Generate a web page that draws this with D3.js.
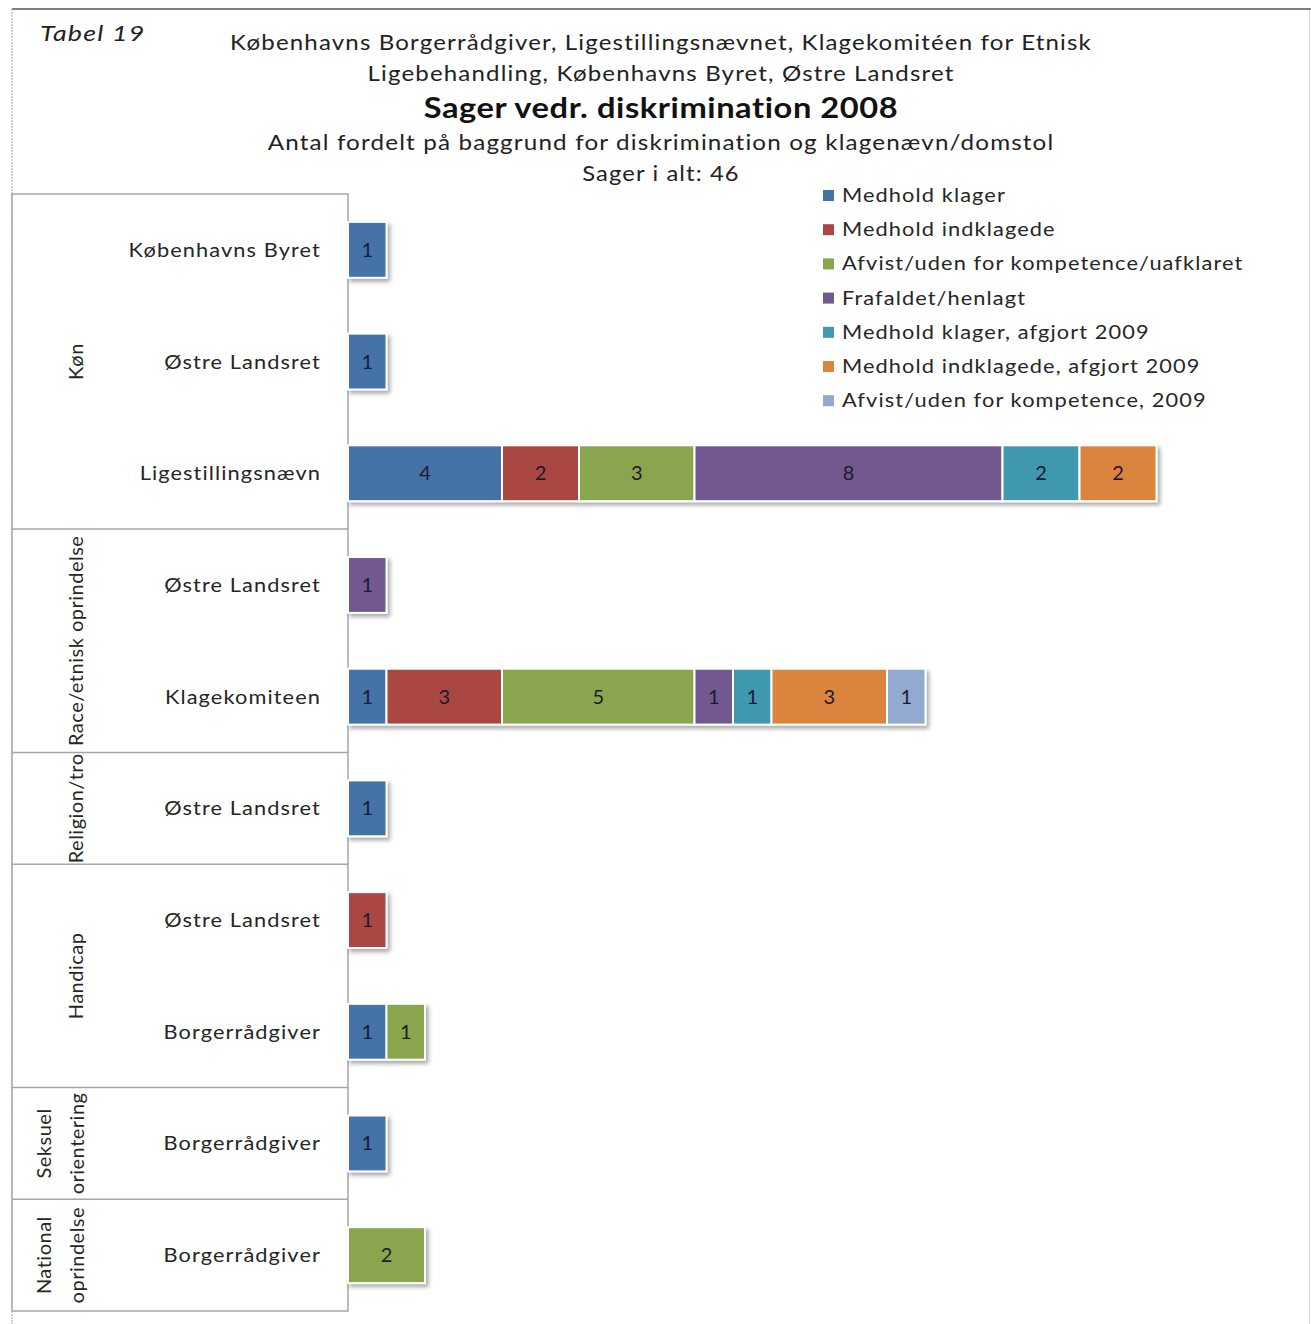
<!DOCTYPE html>
<html>
<head>
<meta charset="utf-8">
<script src="https://cdn.jsdelivr.net/npm/d3@7"></script>
<style>
  body { margin: 0; background: #fff; }
  svg { display: block; font-family: Lato, "Open Sans", sans-serif; }
</style>
</head>
<body>
<svg id="chart"></svg>
<script>
// rows, top to bottom
const groups = ["Køn", "Køn", "Køn", "Race/etnisk oprindelse", "Race/etnisk oprindelse",
  "Religion/tro", "Handicap", "Handicap", "Seksuel orientering", "National oprindelse"];
const courts = ["Københavns Byret", "Østre Landsret", "Ligestillingsnævn", "Østre Landsret",
  "Klagekomiteen", "Østre Landsret", "Østre Landsret", "Borgerrådgiver", "Borgerrådgiver", "Borgerrådgiver"];

const seriesNames = ["Medhold klager", "Medhold indklagede", "Afvist/uden for kompetence/uafklaret",
  "Frafaldet/henlagt", "Medhold klager, afgjort 2009", "Medhold indklagede, afgjort 2009",
  "Afvist/uden for kompetence, 2009"];

const medholdKlager      = [1, 1, 4, 0, 1, 1, 0, 1, 1, 0];
const medholdIndklagede  = [0, 0, 2, 0, 3, 0, 1, 0, 0, 0];
const afvist             = [0, 0, 3, 0, 5, 0, 0, 1, 0, 2];
const frafaldet          = [0, 0, 8, 1, 1, 0, 0, 0, 0, 0];
const medholdKlager09    = [0, 0, 2, 0, 1, 0, 0, 0, 0, 0];
const medholdIndklag09   = [0, 0, 2, 0, 3, 0, 0, 0, 0, 0];
const afvist09           = [0, 0, 0, 0, 1, 0, 0, 0, 0, 0];

const colors = ["#4572A7", "#AA4643", "#89A54E", "#71588F", "#4198AF", "#DB843D", "#93A9CF"];

const titleLines = ["Københavns Borgerrådgiver, Ligestillingsnævnet, Klagekomitéen for Etnisk",
  "Ligebehandling, Københavns Byret, Østre Landsret"];
const mainTitle = "Sager vedr. diskrimination 2008";
const subTitle = "Antal fordelt på baggrund for diskrimination og klagenævn/domstol";
const totalText = "Sager i alt: 46";

const W = 1311, H = 1324;
const svg = d3.select("#chart").attr("width", W).attr("height", H);

const values = [medholdKlager, medholdIndklagede, afvist, frafaldet, medholdKlager09, medholdIndklag09, afvist09];
const table = courts.map((c, i) => {
  const row = { i };
  seriesNames.forEach((s, k) => row[s] = values[k][i]);
  return row;
});
const stacked = d3.stack().keys(seriesNames)(table);

const tableLeft = 12, tableRight = 348, tableTop = 194, tableBottom = 1311;

const x = d3.scaleLinear().domain([0, 21]).range([tableRight, tableRight + 21 * 38.5]);
const y = d3.scaleBand().domain(d3.range(courts.length)).range([tableTop, tableBottom])
  .paddingInner(0.5).paddingOuter(0.25);

const defs = svg.append("defs");
const f = defs.append("filter").attr("id", "shadow")
  .attr("x", "-10%").attr("y", "-20%").attr("width", "130%").attr("height", "150%");
f.append("feDropShadow").attr("dx", 2.5).attr("dy", 3).attr("stdDeviation", 2)
  .attr("flood-color", "#000").attr("flood-opacity", 0.35);

// the source picture is stretched sideways, so horizontal text gets a scaleX
function wideText(parent, tx, ty, sx, anchor, size, txt) {
  return parent.append("g").attr("transform", `translate(${tx},${ty}) scale(${sx},1)`)
    .append("text").attr("text-anchor", anchor).attr("font-size", size)
    .attr("letter-spacing", 1).attr("fill", "#222").text(txt);
}

// frame
svg.append("line").attr("x1", tableLeft).attr("x2", W).attr("y1", 9).attr("y2", 9)
  .attr("stroke", "#7f7f7f").attr("stroke-width", 2);
svg.append("line").attr("x1", tableLeft).attr("x2", tableLeft).attr("y1", 9).attr("y2", H)
  .attr("stroke", "#a0a0a0").attr("stroke-width", 1).attr("stroke-dasharray", "2,1");
svg.append("line").attr("x1", W - 1.5).attr("x2", W - 1.5).attr("y1", 10).attr("y2", H)
  .attr("stroke", "#d8d8d8").attr("stroke-width", 1);

// titles
wideText(svg, 40, 41, 1.22, "start", 22, "Tabel 19").attr("font-style", "italic");

const cx = 661;
titleLines.forEach((t, i) => wideText(svg, cx, 50 + i * 31, 1.146, "middle", 21, t));
wideText(svg, cx, 118, 1.165, "middle", 28, mainTitle)
  .attr("font-weight", "bold").attr("letter-spacing", 0.5).attr("fill", "#111");
wideText(svg, cx, 150, 1.154, "middle", 21, subTitle);
wideText(svg, cx, 181, 1.13, "middle", 21, totalText);

// table on the left
const tbl = svg.append("g").attr("stroke", "#a6a6a6").attr("stroke-width", 1.5);
tbl.append("rect").attr("x", tableLeft).attr("y", tableTop)
  .attr("width", tableRight - tableLeft).attr("height", tableBottom - tableTop).attr("fill", "#fff");

// group spans from the group array
const spans = [];
groups.forEach((g, i) => {
  const last = spans[spans.length - 1];
  if (last && last.name === g) last.end = i;
  else spans.push({ name: g, start: i, end: i });
});
const step = y.step();
const rowTop = i => tableTop + i * step;

spans.slice(1).forEach(s => {
  tbl.append("line").attr("x1", tableLeft).attr("x2", tableRight)
    .attr("y1", rowTop(s.start)).attr("y2", rowTop(s.start));
});

const twoLine = { "Seksuel orientering": ["Seksuel", "orientering"], "National oprindelse": ["National", "oprindelse"] };
spans.forEach(s => {
  const cy = (rowTop(s.start) + rowTop(s.end + 1)) / 2;
  const lines = twoLine[s.name] || [s.name];
  lines.forEach((t, j) => {
    const lx = lines.length === 1 ? 83 : 51 + j * 33;
    svg.append("text").attr("transform", `translate(${lx},${cy}) rotate(-90)`)
      .attr("text-anchor", "middle").attr("font-size", 20).attr("letter-spacing", 0.5)
      .attr("fill", "#262626").text(t);
  });
});

const courtLabels = svg.append("g");
courts.forEach((c, i) => {
  wideText(courtLabels, 321, y(i) + y.bandwidth() / 2 + 7, 1.09, "end", 20, c).attr("fill", "#262626");
});

// bars
const bars = svg.append("g").attr("filter", "url(#shadow)");
stacked.forEach((layer, k) => {
  bars.selectAll(".s" + k).data(layer.filter(d => d[1] > d[0])).enter().append("rect")
    .attr("x", d => x(d[0])).attr("y", d => y(d.data.i))
    .attr("width", d => x(d[1]) - x(d[0])).attr("height", y.bandwidth())
    .attr("fill", colors[k]).attr("stroke", "#fff").attr("stroke-width", 2);
});
const lbl = svg.append("g");
stacked.forEach((layer, k) => {
  lbl.selectAll(".l" + k).data(layer.filter(d => d[1] > d[0])).enter().append("text")
    .attr("x", d => (x(d[0]) + x(d[1])) / 2).attr("y", d => y(d.data.i) + y.bandwidth() / 2 + 7)
    .attr("text-anchor", "middle").attr("font-size", 20).attr("fill", "#1c1a33")
    .text(d => d[1] - d[0]);
});

// legend
const lg = svg.append("g").selectAll("g").data(seriesNames).enter().append("g")
  .attr("transform", (d, i) => `translate(823,${195 + i * 34.2})`);
lg.append("rect").attr("x", 0).attr("y", -5).attr("width", 11).attr("height", 11)
  .attr("fill", (d, i) => colors[i]);
lg.each(function (d) {
  wideText(d3.select(this), 19, 7, 1.09, "start", 20, d).attr("fill", "#262626");
});
</script>
</body>
</html>
